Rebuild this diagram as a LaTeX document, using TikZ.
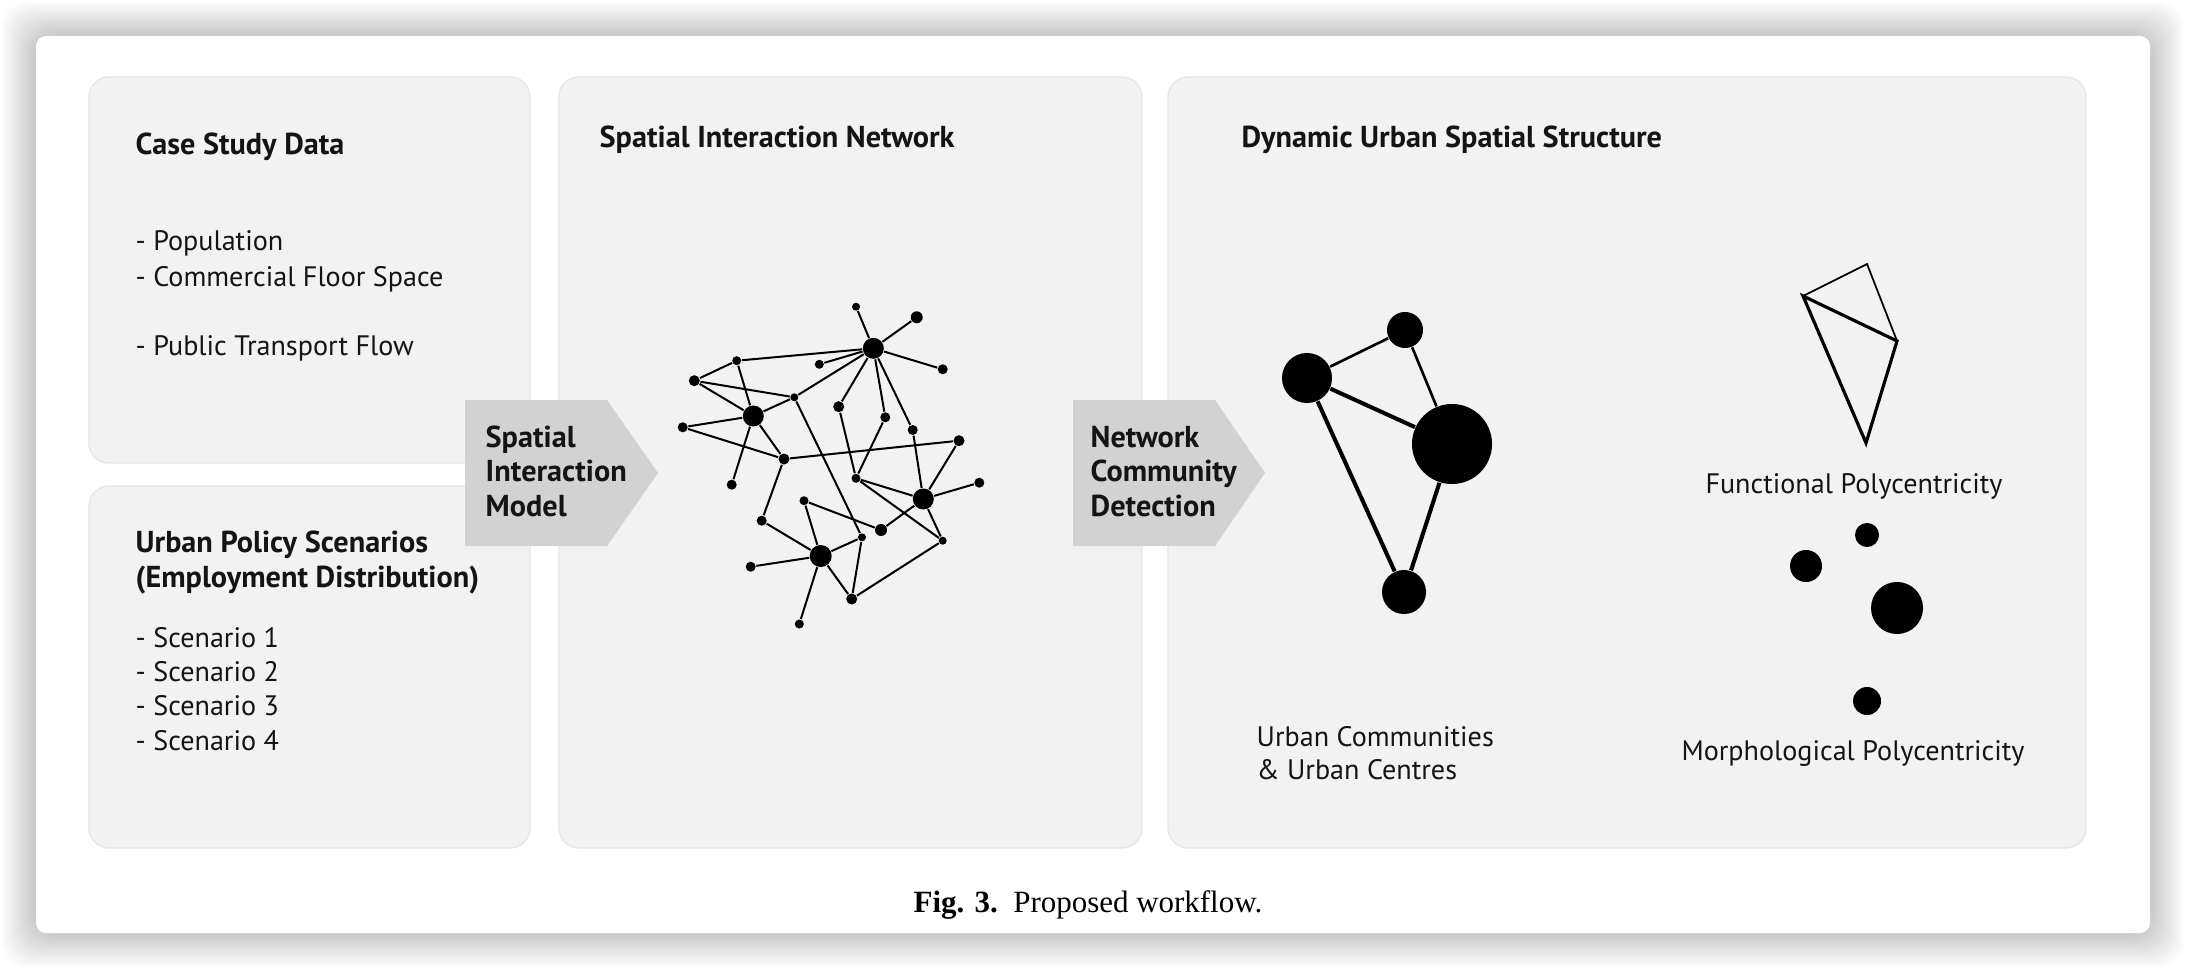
\documentclass[tikz,border=0pt]{standalone}
\usepackage{fontspec}
\setmainfont{PT Sans}
\newfontfamily\capfont{Liberation Serif}
\definecolor{panelgray}{RGB}{242,242,242}
\definecolor{paneledge}{RGB}{230,230,230}
\definecolor{arrowgray}{RGB}{210,210,210}
\definecolor{inkc}{RGB}{20,20,20}
\begin{document}
\begin{tikzpicture}[x=0.01cm, y=-0.01cm,
  panel/.style={fill=panelgray, draw=paneledge, line width=0.4pt, rounded corners=0.2cm},
  blockarrow/.style={fill=arrowgray},
  hd/.style={anchor=base west, inner sep=0pt, text=inkc, font=\fontsize{8.6}{10}\selectfont\bfseries},
  bd/.style={anchor=base west, inner sep=0pt, text=inkc, font=\fontsize{8}{9.5}\selectfont},
  bdc/.style={anchor=base, inner sep=0pt, text=inkc, font=\fontsize{8}{9.5}\selectfont},
  arrtxt/.style={anchor=base west, inner sep=0pt, text=inkc, font=\fontsize{8.6}{10}\selectfont\bfseries},
  nd/.style={circle, fill=black, inner sep=0pt, minimum size=#1},
  ln/.style={line width=0.57pt},
  thinln/.style={line width=0.75pt},
  thickln/.style={line width=1.15pt},
]
\useasboundingbox (0,0) rectangle (2186,970);
\fill[white] (0,0) rectangle (2186,970);
% card shadow
\foreach \i in {1,...,18} {
  \fill[black, opacity=0.01, rounded corners=0.25cm] ({36-1.9*\i},{36-1.9*\i}) rectangle ({2150+1.9*\i},{933+1.9*\i});
}
\fill[white, rounded corners=0.1cm] (36,36) rectangle (2150,933);

% panels
\draw[panel] (89,77) rectangle (530,463);
\draw[panel] (89,486) rectangle (530,848);
\draw[panel] (559,77) rectangle (1142,848);
\draw[panel] (1168,77) rectangle (2086,848);

% block arrows
\fill[blockarrow] (465,400) -- (607,400) -- (658,473) -- (607,546) -- (465,546) -- cycle;
\fill[blockarrow] (1073,400) -- (1215,400) -- (1265,473) -- (1215,546) -- (1073,546) -- cycle;

% panel 1 text
\node[hd] (csd) at (135,154) {Case Study Data};
\node[bd] (pop) at (135,250) {- Population};
\node[bd] (cfs) at (135,286) {- Commercial Floor Space};
\node[bd] (ptf) at (135,355) {- Public Transport Flow};
% panel 2 text
\node[hd] (ups) at (135,552) {Urban Policy Scenarios};
\node[hd] (emp) at (135,587) {(Employment Distribution)};
\node[bd] (sc1) at (135,647) {- Scenario 1};
\node[bd] (sc2) at (135,681) {- Scenario 2};
\node[bd] (sc3) at (135,715) {- Scenario 3};
\node[bd] (sc4) at (135,750) {- Scenario 4};
% panel headers
\node[hd] (sin) at (599,147) {Spatial Interaction Network};
\node[hd] (duss) at (1241,147) {Dynamic Urban Spatial Structure};
% arrow texts
\node[arrtxt] (a1l1) at (485,447) {Spatial};
\node[arrtxt] (a1l2) at (485,481) {Interaction};
\node[arrtxt] (a1l3) at (485,516) {Model};
\node[arrtxt] (a2l1) at (1090,447) {Network};
\node[arrtxt] (a2l2) at (1090,481) {Community};
\node[arrtxt] (a2l3) at (1090,516) {Detection};

% ---- spatial interaction network ----
\node[nd=0.21cm] (nH1) at (873.3,348.3) {};
\node[nd=0.21cm] (nH2) at (753.3,416.0) {};
\node[nd=0.21cm] (nH3) at (923.3,499.0) {};
\node[nd=0.22cm] (nH4) at (820.7,556.0) {};
\node[nd=0.08cm] (nA) at (856.0,306.7) {};
\node[nd=0.12cm] (nB) at (916.7,317.3) {};
\node[nd=0.10cm] (nC) at (942.7,369.3) {};
\node[nd=0.09cm] (nD) at (819.3,364.3) {};
\node[nd=0.09cm] (nE) at (736.7,360.7) {};
\node[nd=0.11cm] (nF) at (694.3,380.7) {};
\node[nd=0.08cm] (nG) at (794.3,397.3) {};
\node[nd=0.11cm] (nI) at (838.7,406.7) {};
\node[nd=0.10cm] (nJ) at (885.3,417.3) {};
\node[nd=0.10cm] (nK) at (912.7,430.0) {};
\node[nd=0.10cm] (nL) at (682.7,427.3) {};
\node[nd=0.11cm] (nM) at (959.0,440.7) {};
\node[nd=0.11cm] (nN) at (784.0,459.0) {};
\node[nd=0.09cm] (nO) at (856.0,478.3) {};
\node[nd=0.10cm] (nP) at (731.7,484.7) {};
\node[nd=0.10cm] (nQ) at (979.3,482.7) {};
\node[nd=0.09cm] (nR) at (804.0,500.7) {};
\node[nd=0.12cm] (nS) at (881.0,530.0) {};
\node[nd=0.10cm] (nT) at (761.7,520.7) {};
\node[nd=0.08cm] (nU) at (862.0,537.3) {};
\node[nd=0.08cm] (nV) at (942.7,540.7) {};
\node[nd=0.10cm] (nW) at (750.7,566.7) {};
\node[nd=0.11cm] (nX) at (851.7,599.0) {};
\node[nd=0.09cm] (nY) at (799.3,624.0) {};
\foreach \a/\b in {A/H1, B/H1, C/H1, D/H1, E/H1, F/E, F/G, F/H2, E/H2, H2/G, G/H1,
  L/H2, L/N, H2/N, H2/P, N/M, N/T, T/H4, W/H4, Y/H4, H4/U, H4/X, R/H4, R/S, S/H3,
  G/U, U/X, X/V, I/H1, I/O, J/H1, J/O, O/H3, O/V, K/H1, K/H3, M/H3, Q/H3, H3/V}
  \draw[ln] (n\a) -- (n\b);

% ---- communities graph ----
\node[nd=0.36cm] (c1) at (1405,330) {};
\node[nd=0.50cm] (c2) at (1307,378) {};
\node[nd=0.80cm] (c3) at (1452,444) {};
\node[nd=0.44cm] (c4) at (1404,592) {};
\draw[thinln] (c2) -- (c1);
\draw[thinln] (c1) -- (c3);
\draw[thickln] (c2) -- (c3);
\draw[thickln] (c2) -- (c4);
\draw[thickln] (c3) -- (c4);
\node[bd] (uc1) at (1256,746) {Urban Communities};
\node[bd] (uc2) at (1256,779) {\& Urban Centres};

% ---- functional polycentricity ----
\coordinate (f1) at (1867,264);
\coordinate (f2) at (1803,296);
\coordinate (f3) at (1897,341);
\coordinate (f4) at (1866,443);
\draw[line width=0.5pt, line join=miter] (f2) -- (f1) -- (f3);
\draw[line width=0.9pt, line join=miter] (f2) -- (f3) -- (f4) -- cycle;
\node[bdc] (fp) at (1854,493) {Functional Polycentricity};

% ---- morphological polycentricity ----
\node[nd=0.24cm] (m1) at (1867,535) {};
\node[nd=0.32cm] (m2) at (1806,566) {};
\node[nd=0.52cm] (m3) at (1897,608) {};
\node[nd=0.28cm] (m4) at (1867,701) {};
\node[bdc] (mp) at (1853,760) {Morphological Polycentricity};

% caption
\node[anchor=base, inner sep=0pt, font=\capfont\fontsize{8.8}{10}\selectfont] (cap) at (1088,912) {\textbf{Fig. 3.}\enspace Proposed workflow.};
\end{tikzpicture}
\end{document}
